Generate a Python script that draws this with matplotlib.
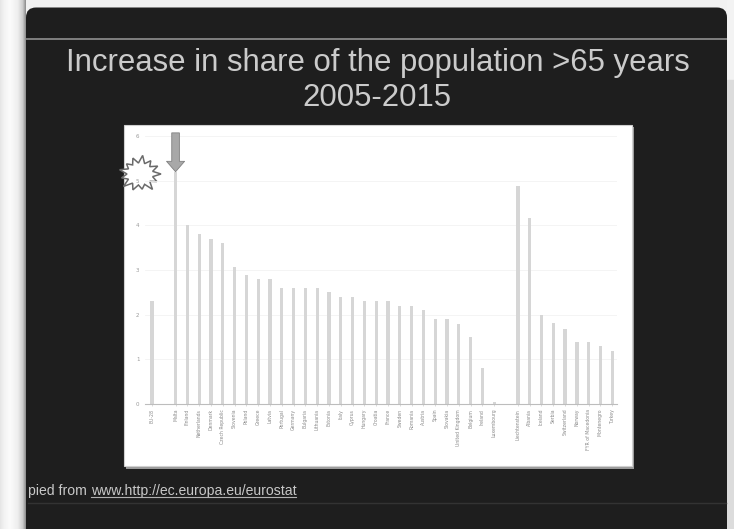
import numpy as np
import matplotlib
matplotlib.use("Agg")
import matplotlib.pyplot as plt
from matplotlib.patches import FancyBboxPatch, Rectangle, Polygon
from matplotlib.transforms import Bbox, TransformedBbox

# ---------------- data ----------------
aggregate_label = ["EU-28"]
aggregate_values = [2.3]

eu_countries = ["Malta", "Finland", "Netherlands", "Denmark", "Czech Republic",
                "Slovenia", "Poland", "Greece", "Latvia", "Portugal", "Germany",
                "Bulgaria", "Lithuania", "Estonia", "Italy", "Cyprus", "Hungary",
                "Croatia", "France", "Sweden", "Romania", "Austria", "Spain",
                "Slovakia", "United Kingdom", "Belgium", "Ireland", "Luxembourg"]
eu_values = [5.2, 4.0, 3.8, 3.7, 3.6, 3.07, 2.89, 2.8, 2.8, 2.6, 2.6, 2.6, 2.6,
             2.5, 2.4, 2.4, 2.3, 2.3, 2.3, 2.2, 2.2, 2.1, 1.9, 1.9, 1.8, 1.5,
             0.8, 0.05]

other_countries = ["Liechtenstein", "Albania", "Iceland", "Serbia", "Switzerland",
                   "Norway", "FYR of Macedonia", "Montenegro", "Turkey"]
other_values = [4.88, 4.17, 1.99, 1.81, 1.69, 1.39, 1.39, 1.30, 1.19]

y_ticks = [0, 1, 2, 3, 4, 5, 6]
title_lines = ["Increase in share of the population >65 years", "2005-2015"]
source_prefix = "Copied from "
source_url = "www.http://ec.europa.eu/eurostat"

# ---------------- figure ----------------
W, H = 734, 529
fig = plt.figure(figsize=(W / 100, H / 100), dpi=100)
fig.patch.set_facecolor("#f1f1f1")

bg = fig.add_axes([0, 0, 1, 1])
bg.set_xlim(0, W)
bg.set_ylim(H, 0)
bg.axis("off")

# left light strip with a soft shadow
xs = np.linspace(0, 26, 60)
vals = np.interp(xs, [0, 4, 10, 18, 23, 26], [0.90, 0.95, 0.985, 0.93, 0.80, 0.55])
bg.imshow(np.tile(vals, (2, 1)), cmap="gray", vmin=0, vmax=1, aspect="auto",
          extent=[0, 26, H, 0], zorder=0)
bg.add_patch(Rectangle((727, 0), 7, 80, color="#f3f3f3", zorder=0))
bg.add_patch(Rectangle((727, 80), 7, H - 80, color="#dcdcdc", zorder=0))

# dark slide panel
panel = FancyBboxPatch((26, 7.5), 701, 540, boxstyle="round,pad=0,rounding_size=10",
                       facecolor="#1e1e1e", edgecolor="none", zorder=1)
bg.add_patch(panel)
bg.plot([27, 726], [39, 39], color="#808080", lw=1.4, zorder=2)
bg.plot([28, 726], [503, 503], color="#333333", lw=1.0, zorder=2)

# title
bg.text(377.5, 71, title_lines[0], ha="center", va="baseline", fontsize=22.4,
        family="Liberation Sans", color="#cbcbcb", zorder=3)
bg.text(377, 106.5, title_lines[1], ha="center", va="baseline", fontsize=22.4,
        family="Liberation Sans", color="#cbcbcb", zorder=3)

# white chart box with faint shadow
bg.add_patch(Rectangle((125.5, 126.5), 508, 342, facecolor="#9a9a9a",
                       edgecolor="none", zorder=2))
bg.add_patch(Rectangle((124, 124.5), 508, 341.5, facecolor="white",
                       edgecolor="#d0d0d0", lw=0.8, zorder=3))

# starburst callout
n_sp = 13
r_out = [21, 19, 22, 18, 20, 22, 19, 21, 18, 20, 22, 19, 20]
r_in = 13
cx, cy = 140, 174
pts = []
for k in range(n_sp):
    a0 = 2 * np.pi * k / n_sp
    a1 = 2 * np.pi * (k + 0.5) / n_sp
    pts.append((cx + r_out[k] * np.cos(a0), cy + 0.85 * r_out[k] * np.sin(a0)))
    pts.append((cx + r_in * np.cos(a1), cy + 0.85 * r_in * np.sin(a1)))
bg.add_patch(Polygon(pts, closed=True, facecolor="white", edgecolor="#6a6a6a",
                     lw=1.1, zorder=4))

# footnote (left part clipped by the panel edge)
fs_note = 10.1
r = fig.canvas.get_renderer()
tmp = bg.text(0, 0, "Co", fontsize=fs_note, family="Liberation Sans")
w_co = tmp.get_window_extent(r).width
tmp.remove()
x0 = 28 - w_co
clip = TransformedBbox(Bbox([[27.5, 0], [727, H]]), bg.transData)
t1 = bg.text(x0, 495, source_prefix, fontsize=fs_note, family="Liberation Sans",
             color="#c8c8c8", va="baseline", ha="left", zorder=3, clip_on=True)
t1.set_clip_box(clip)
w_pre = t1.get_window_extent(r).width
t2 = bg.text(x0 + w_pre, 495, source_url, fontsize=fs_note, family="Liberation Sans",
             color="#c8c8c8", va="baseline", ha="left", zorder=3)
w_url = t2.get_window_extent(r).width
bg.plot([x0 + w_pre, x0 + w_pre + w_url], [497, 497], color="#b0b0b0", lw=0.8, zorder=3)

# ---------------- chart axes ----------------
ax_left, ax_right, y_zero, y_top = 145, 617, 404, 136
ax = fig.add_axes([ax_left / W, (H - y_zero) / H, (ax_right - ax_left) / W,
                   (y_zero - y_top) / H])
ax.set_facecolor("none")

labels = aggregate_label + eu_countries + other_countries
values = aggregate_values + eu_values + other_values
positions = ([0] + list(range(2, 2 + len(eu_countries)))
             + list(range(3 + len(eu_countries), 3 + len(eu_countries) + len(other_countries))))

ax.bar(positions, values, width=0.28, color="#d6d6d6", zorder=2)
ax.set_xlim(-0.59, 39.4)
ax.set_ylim(0, 6)
ax.set_yticks(y_ticks)
ax.set_yticklabels([str(v) for v in y_ticks], fontsize=4, color="#9a9a9a")
ax.tick_params(axis="y", length=0, pad=4)
ax.set_xticks(positions)
ax.set_xticklabels(labels, rotation=90, fontsize=3.3, color="#8a8a8a")
ax.tick_params(axis="x", length=1.5, width=0.4, color="#c0c0c0", pad=2)
ax.grid(axis="y", color="#f3f3f3", lw=0.6, zorder=0)
for s in ["top", "right", "left"]:
    ax.spines[s].set_visible(False)
ax.spines["bottom"].set_color("#bdbdbd")
ax.spines["bottom"].set_linewidth(0.8)

# arrow pointing at the top country
ax.annotate("", xy=(positions[1], eu_values[0]), xytext=(positions[1], 6.07),
            arrowprops=dict(width=5.5, headwidth=13, headlength=7.5,
                            facecolor="#a8a8a8", edgecolor="#808080", lw=0.6),
            annotation_clip=False, zorder=5)

fig.savefig("out.png", dpi=100, facecolor=fig.get_facecolor())
